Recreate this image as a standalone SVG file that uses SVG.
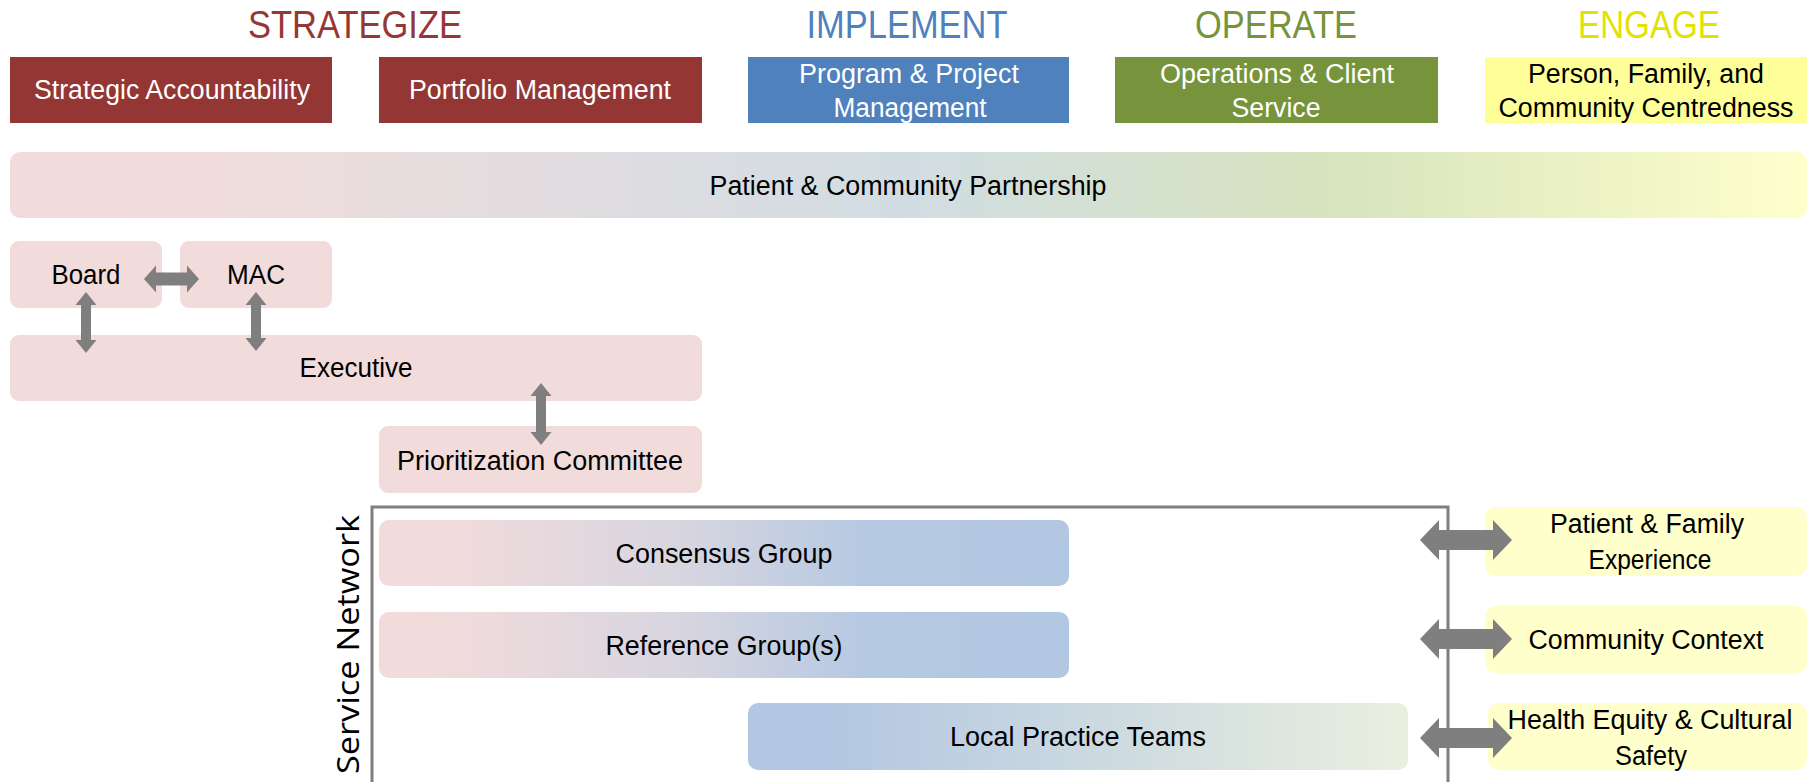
<svg xmlns="http://www.w3.org/2000/svg" width="1816" height="782" viewBox="0 0 1816 782">
<defs>
<linearGradient id="gBar" x1="0" y1="0" x2="1" y2="0">
<stop offset="0" stop-color="#F2DCDB"/>
<stop offset="0.12" stop-color="#F0DCDC"/>
<stop offset="0.5" stop-color="#D1DDE3"/>
<stop offset="0.74" stop-color="#D7E4BD"/>
<stop offset="1" stop-color="#FFFFCC"/>
</linearGradient>
<linearGradient id="gPB" x1="0" y1="0" x2="1" y2="0">
<stop offset="0" stop-color="#F2DCDB"/>
<stop offset="0.12" stop-color="#F0DBDC"/>
<stop offset="0.45" stop-color="#D6D5E0"/>
<stop offset="0.7" stop-color="#B6C9E2"/>
<stop offset="1" stop-color="#B2C7E2"/>
</linearGradient>
<linearGradient id="gBG" x1="0" y1="0" x2="1" y2="0">
<stop offset="0" stop-color="#B2C7E2"/>
<stop offset="0.15" stop-color="#B4C8E2"/>
<stop offset="0.55" stop-color="#CDDAE0"/>
<stop offset="1" stop-color="#EAF0DF"/>
</linearGradient>
</defs>
<style>
text { font-family: "Liberation Sans", Arial, sans-serif; text-anchor: middle; }
.title { font-size: 39px; }
.hw { font-size: 27px; fill: #FFFFFF; }
.t { font-size: 27px; fill: #000000; }
.sn { font-family: "Open Sans", "DejaVu Sans", sans-serif; font-size: 31px; fill: #000000; }
.pink { fill: #F2DCDB; }
.yel { fill: #FFFFCC; }
.arr { fill: #7F7F7F; }
.frame { fill: none; stroke: #7F7F7F; stroke-width: 3; }
</style>
<rect width="1816" height="782" fill="#FFFFFF"/>

<g id="titles">
<text class="title" x="355" y="38" fill="#953735" textLength="214" lengthAdjust="spacingAndGlyphs">STRATEGIZE</text>
<text class="title" x="907" y="38" fill="#4F81BD" textLength="201" lengthAdjust="spacingAndGlyphs">IMPLEMENT</text>
<text class="title" x="1276" y="38" fill="#77933C" textLength="162" lengthAdjust="spacingAndGlyphs">OPERATE</text>
<text class="title" x="1649" y="38" fill="#E2E200" textLength="142" lengthAdjust="spacingAndGlyphs">ENGAGE</text>
</g>

<g id="strategic-accountability">
<rect x="10" y="57" width="322" height="66" fill="#943634"/>
<text class="hw" x="172" y="99" textLength="276" lengthAdjust="spacingAndGlyphs">Strategic Accountability</text>
</g>
<g id="portfolio-management">
<rect x="379" y="57" width="323" height="66" fill="#943634"/>
<text class="hw" x="540" y="99" textLength="262" lengthAdjust="spacingAndGlyphs">Portfolio Management</text>
</g>
<g id="program-project-management">
<rect x="748" y="57" width="321" height="66" fill="#4F81BD"/>
<text class="hw" x="909" y="83" textLength="220" lengthAdjust="spacingAndGlyphs">Program &amp; Project</text>
<text class="hw" x="910" y="117" textLength="153" lengthAdjust="spacingAndGlyphs">Management</text>
</g>
<g id="operations-client-service">
<rect x="1115" y="57" width="323" height="66" fill="#77933C"/>
<text class="hw" x="1277" y="83" textLength="234" lengthAdjust="spacingAndGlyphs">Operations &amp; Client</text>
<text class="hw" x="1276" y="117" textLength="89" lengthAdjust="spacingAndGlyphs">Service</text>
</g>
<g id="person-family-community">
<rect x="1485" y="57" width="322" height="66" fill="#FFFF99"/>
<text class="t" x="1646" y="83" textLength="236" lengthAdjust="spacingAndGlyphs">Person, Family, and</text>
<text class="t" x="1646" y="117" textLength="295" lengthAdjust="spacingAndGlyphs">Community Centredness</text>
</g>

<g id="patient-community-partnership">
<rect x="10" y="152" width="1797" height="66" rx="10" fill="url(#gBar)"/>
<text class="t" x="908" y="195" textLength="397" lengthAdjust="spacingAndGlyphs">Patient &amp; Community Partnership</text>
</g>

<g id="board">
<rect class="pink" x="10" y="241" width="152" height="67" rx="9"/>
<text class="t" x="86" y="284" textLength="69" lengthAdjust="spacingAndGlyphs">Board</text>
</g>
<g id="mac">
<rect class="pink" x="180" y="241" width="152" height="67" rx="9"/>
<text class="t" x="256" y="284" textLength="58" lengthAdjust="spacingAndGlyphs">MAC</text>
</g>
<g id="executive">
<rect class="pink" x="10" y="335" width="692" height="66" rx="9"/>
<text class="t" x="356" y="377" textLength="113" lengthAdjust="spacingAndGlyphs">Executive</text>
</g>
<g id="prioritization-committee">
<rect class="pink" x="379" y="426" width="323" height="67" rx="9"/>
<text class="t" x="540" y="470" textLength="286" lengthAdjust="spacingAndGlyphs">Prioritization Committee</text>
</g>

<g id="service-network">
<path class="frame" d="M372,782 V507 H1448 V782"/>
<text class="sn" transform="translate(359,644.5) rotate(-90)" x="0" y="0" textLength="259" lengthAdjust="spacingAndGlyphs">Service Network</text>
</g>

<g id="consensus-group">
<rect x="379" y="520" width="690" height="66" rx="10" fill="url(#gPB)"/>
<text class="t" x="724" y="563" textLength="217" lengthAdjust="spacingAndGlyphs">Consensus Group</text>
</g>
<g id="reference-groups">
<rect x="379" y="612" width="690" height="66" rx="10" fill="url(#gPB)"/>
<text class="t" x="724" y="655" textLength="237" lengthAdjust="spacingAndGlyphs">Reference Group(s)</text>
</g>
<g id="local-practice-teams">
<rect x="748" y="703" width="660" height="67" rx="10" fill="url(#gBG)"/>
<text class="t" x="1078" y="746" textLength="256" lengthAdjust="spacingAndGlyphs">Local Practice Teams</text>
</g>

<g id="patient-family-experience">
<rect class="yel" x="1485" y="507" width="322" height="69" rx="10"/>
<text class="t" x="1647" y="533" textLength="194" lengthAdjust="spacingAndGlyphs">Patient &amp; Family</text>
<text class="t" x="1650" y="569" textLength="123" lengthAdjust="spacingAndGlyphs">Experience</text>
</g>
<g id="community-context">
<rect class="yel" x="1485" y="606" width="322" height="67" rx="10"/>
<text class="t" x="1646" y="649" textLength="235" lengthAdjust="spacingAndGlyphs">Community Context</text>
</g>
<g id="health-equity">
<rect class="yel" x="1488" y="703" width="319" height="67" rx="10"/>
<text class="t" x="1650" y="729" textLength="285" lengthAdjust="spacingAndGlyphs">Health Equity &amp; Cultural</text>
<text class="t" x="1651" y="765" textLength="72" lengthAdjust="spacingAndGlyphs">Safety</text>
</g>

<g id="connectors">
<polygon class="arr" points="144,279 156,265.5 156,272.5 187,272.5 187,265.5 199,279 187,292.5 187,285.5 156,285.5 156,292.5"/>
<polygon class="arr" points="86,292 96.5,305 91,305 91,340 96.5,340 86,353 75.5,340 81,340 81,305 75.5,305"/>
<polygon class="arr" points="256,292 266.5,305 261,305 261,338 266.5,338 256,351 245.5,338 251,338 251,305 245.5,305"/>
<polygon class="arr" points="541,383 551.5,396 546,396 546,432 551.5,432 541,445 530.5,432 536,432 536,396 530.5,396"/>
<polygon class="arr" points="1420,540 1439,520 1439,530 1493,530 1493,520 1512,540 1493,560 1493,550 1439,550 1439,560"/>
<polygon class="arr" points="1420,639 1439,619 1439,629 1493,629 1493,619 1512,639 1493,659 1493,649 1439,649 1439,659"/>
<polygon class="arr" points="1420,738 1439,718 1439,728 1493,728 1493,718 1512,738 1493,758 1493,748 1439,748 1439,758"/>
</g>
</svg>
